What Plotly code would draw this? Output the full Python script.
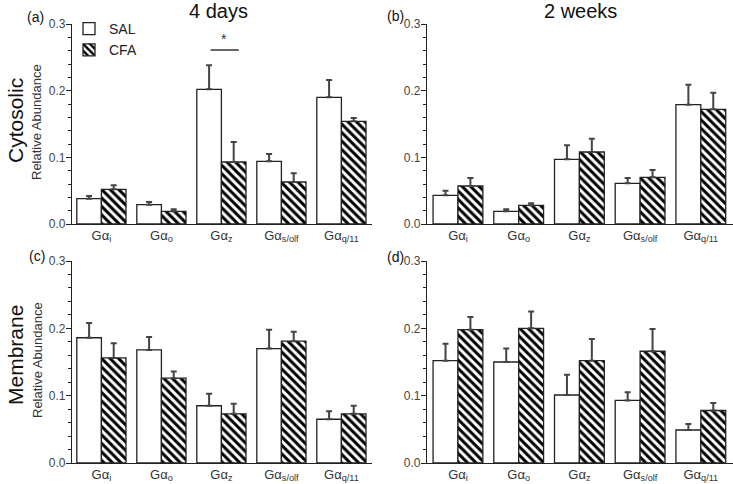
import plotly.graph_objects as go

W, H = 733, 484

proteins = ["Gα<sub>i</sub>", "Gα<sub>o</sub>", "Gα<sub>z</sub>", "Gα<sub>s/olf</sub>", "Gα<sub>q/11</sub>"]

# (a) cytosolic, 4 days
cyt_4d_sal = [0.038, 0.029, 0.202, 0.094, 0.190]
cyt_4d_sal_sem = [0.004, 0.004, 0.036, 0.011, 0.026]
cyt_4d_cfa = [0.052, 0.019, 0.093, 0.063, 0.154]
cyt_4d_cfa_sem = [0.006, 0.003, 0.030, 0.013, 0.005]

# (b) cytosolic, 2 weeks
cyt_2w_sal = [0.043, 0.019, 0.097, 0.061, 0.179]
cyt_2w_sal_sem = [0.007, 0.003, 0.021, 0.008, 0.030]
cyt_2w_cfa = [0.057, 0.028, 0.108, 0.070, 0.172]
cyt_2w_cfa_sem = [0.012, 0.003, 0.020, 0.011, 0.025]

# (c) membrane, 4 days
mem_4d_sal = [0.186, 0.168, 0.085, 0.170, 0.065]
mem_4d_sal_sem = [0.022, 0.019, 0.018, 0.028, 0.012]
mem_4d_cfa = [0.156, 0.126, 0.073, 0.181, 0.073]
mem_4d_cfa_sem = [0.022, 0.010, 0.015, 0.014, 0.012]

# (d) membrane, 2 weeks
mem_2w_sal = [0.152, 0.150, 0.101, 0.093, 0.049]
mem_2w_sal_sem = [0.025, 0.020, 0.030, 0.012, 0.009]
mem_2w_cfa = [0.198, 0.200, 0.152, 0.166, 0.078]
mem_2w_cfa_sem = [0.019, 0.025, 0.032, 0.033, 0.011]

y_ticks = [0.0, 0.1, 0.2, 0.3]
y_ticklabels = ["0.0", "0.1", "0.2", "0.3"]

FONT = "Liberation Sans, Arial, sans-serif"
EDGE = "#222"


def px(x):
    return x / W


def py(y):
    return 1 - y / H


panels = [
    # axis suffix, sal, sal_sem, cfa, cfa_sem
    ("", cyt_4d_sal, cyt_4d_sal_sem, cyt_4d_cfa, cyt_4d_cfa_sem),
    ("2", cyt_2w_sal, cyt_2w_sal_sem, cyt_2w_cfa, cyt_2w_cfa_sem),
    ("3", mem_4d_sal, mem_4d_sal_sem, mem_4d_cfa, mem_4d_cfa_sem),
    ("4", mem_2w_sal, mem_2w_sal_sem, mem_2w_cfa, mem_2w_cfa_sem),
]

fig = go.Figure()
for k, (sfx, sal, sal_sem, cfa, cfa_sem) in enumerate(panels):
    first = k == 0
    fig.add_trace(go.Bar(
        x=proteins, y=sal, name="SAL", legendgroup="SAL", showlegend=first,
        xaxis="x" + sfx, yaxis="y" + sfx, offsetgroup="sal",
        marker=dict(color="white", line=dict(color=EDGE, width=1.3)),
        error_y=dict(type="data", symmetric=False, array=sal_sem,
                     arrayminus=[0] * len(sal), color="#444", thickness=2, width=3),
    ))
    fig.add_trace(go.Bar(
        x=proteins, y=cfa, name="CFA", legendgroup="CFA", showlegend=first,
        xaxis="x" + sfx, yaxis="y" + sfx, offsetgroup="cfa",
        marker=dict(color="white", line=dict(color=EDGE, width=1.3),
                    pattern=dict(shape="\\", fgcolor="black", bgcolor="white",
                                 fgopacity=1, size=6, solidity=0.5)),
        error_y=dict(type="data", symmetric=False, array=cfa_sem,
                     arrayminus=[0] * len(cfa), color="#444", thickness=2, width=3),
    ))

xcommon = dict(showline=True, linecolor=EDGE, linewidth=1.3, ticks="",
               showgrid=False, zeroline=False, type="category", automargin=False,
               ticklabelstandoff=-1,
               tickfont=dict(family=FONT, size=13, color="#333"))
ycommon = dict(showline=True, linecolor=EDGE, linewidth=1.3, ticks="outside",
               ticklen=5, tickwidth=1.2, tickcolor=EDGE, range=[0, 0.3], automargin=False,
               tickvals=y_ticks, ticktext=y_ticklabels, showgrid=False, zeroline=False,
               ticklabelstandoff=-2,
               minor=dict(ticks="outside", ticklen=3, tickwidth=1, tickcolor=EDGE, dtick=0.02),
               tickfont=dict(family=FONT, size=12, color="#444"))

left_x = [px(72), px(372)]
right_x = [px(427), px(733)]
top_y = [py(224), py(24)]
bot_y = [py(463), py(261)]

fig.update_layout(
    width=W, height=H, autosize=False,
    margin=dict(l=0, r=0, t=0, b=0, pad=0),
    paper_bgcolor="white", plot_bgcolor="white",
    barmode="group", bargap=0.18, bargroupgap=0,
    font=dict(family=FONT, color="#222"),
    xaxis=dict(xcommon, domain=left_x, anchor="y", range=[-0.49, 4.51]),
    yaxis=dict(ycommon, domain=top_y, anchor="x"),
    xaxis2=dict(xcommon, domain=right_x, anchor="y2", range=[-0.51, 4.53]),
    yaxis2=dict(ycommon, domain=top_y, anchor="x2"),
    xaxis3=dict(xcommon, domain=left_x, anchor="y3", range=[-0.49, 4.51]),
    yaxis3=dict(ycommon, domain=bot_y, anchor="x3"),
    xaxis4=dict(xcommon, domain=right_x, anchor="y4", range=[-0.51, 4.53]),
    yaxis4=dict(ycommon, domain=bot_y, anchor="x4"),
    legend=dict(x=px(69), y=py(13), xanchor="left", yanchor="top",
                bgcolor="rgba(0,0,0,0)", font=dict(family=FONT, size=14, color="#222"),
                tracegroupgap=0, itemwidth=30),
)

# significance bar over G alpha z in (a)
fig.add_shape(type="line", xref="x", yref="y", x0=1.82, x1=2.29, y0=0.261, y1=0.261,
              line=dict(color="#333", width=1.5))

annots = [
    dict(text="*", x=2.05, y=0.262, xref="x", yref="y", yanchor="bottom",
         font=dict(size=14, color="#333")),
    dict(text="4 days", x=px(218), y=py(11), font=dict(size=20, color="#111")),
    dict(text="2 weeks", x=px(580), y=py(11), font=dict(size=20, color="#111")),
    dict(text="Cytosolic", x=px(15), y=py(121), textangle=-90, font=dict(size=21, color="#111")),
    dict(text="Membrane", x=px(15), y=py(355), textangle=-90, font=dict(size=21, color="#111")),
    dict(text="Relative Abundance", x=px(37), y=py(122), textangle=-90,
         font=dict(size=13, color="#333")),
    dict(text="Relative Abundance", x=px(37), y=py(360), textangle=-90,
         font=dict(size=13, color="#333")),
    dict(text="(a)", x=px(35), y=py(17), font=dict(size=14, color="#111")),
    dict(text="(b)", x=px(395), y=py(16), font=dict(size=14, color="#111")),
    dict(text="(c)", x=px(37), y=py(256), font=dict(size=14, color="#111")),
    dict(text="(d)", x=px(395), y=py(257), font=dict(size=14, color="#111")),
]
for a in annots:
    a.setdefault("xref", "paper")
    a.setdefault("yref", "paper")
    a.setdefault("xanchor", "center")
    a.setdefault("yanchor", "middle")
    fig.add_annotation(showarrow=False, **a)

fig.write_html("out.html", config={"displayModeBar": False},
               post_script="document.body.style.margin='0';")
